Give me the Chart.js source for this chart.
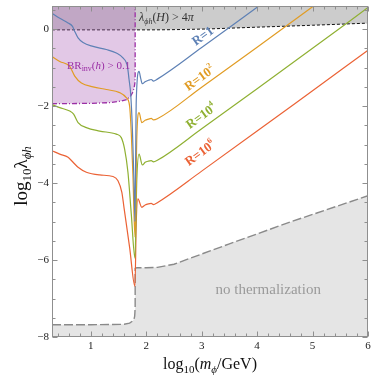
<!DOCTYPE html>
<html>
<head>
<meta charset="utf-8">
<script src="https://cdn.jsdelivr.net/npm/chart.js@4.4.0/dist/chart.umd.min.js"></script>
<style>
  html, body { margin: 0; padding: 0; background: #fff; }
</style>
</head>
<body>
<canvas id="lambda_plot" width="379" height="380"></canvas>
<script>
// x = log10(m_phi / GeV), y = log10(lambda_phih)
const blueX = [0.30, 0.44, 0.59, 0.67, 0.71, 0.77, 0.86, 1.04, 1.28, 1.46, 1.58, 1.66, 1.69, 1.72, 1.75, 1.78, 1.796, 1.82, 1.87, 1.90, 1.93, 1.98, 2.04, 2.09, 2.13, 2.20, 3.00, 4.00, 4.40];
const blueY = [0.41, 0.28, 0.16, 0.07, -0.06, -0.23, -0.35, -0.45, -0.53, -0.62, -0.75, -0.97, -1.31, -1.70, -2.60, -4.00, -5.00, -1.85, -1.10, -1.28, -1.42, -1.37, -1.33, -1.31, -1.35, -1.30, -0.48, 0.57, 0.99];

const orangeX = [0.30, 0.44, 0.62, 0.71, 0.83, 1.04, 1.28, 1.52, 1.64, 1.70, 1.73, 1.76, 1.796, 1.83, 1.87, 1.92, 1.98, 2.04, 2.09, 2.13, 2.20, 3.00, 4.00, 5.00, 5.40];
const orangeY = [-0.71, -0.84, -0.97, -1.22, -1.40, -1.50, -1.57, -1.65, -1.78, -2.00, -2.70, -3.80, -5.40, -2.80, -2.17, -2.43, -2.37, -2.34, -2.32, -2.36, -2.33, -1.51, -0.47, 0.58, 1.00];

const greenX = [0.30, 0.44, 0.62, 0.69, 0.77, 0.92, 1.16, 1.46, 1.55, 1.61, 1.67, 1.73, 1.796, 1.83, 1.87, 1.93, 1.98, 2.04, 2.09, 2.13, 2.20, 3.00, 4.00, 5.00, 6.00];
const greenY = [-1.96, -2.04, -2.13, -2.21, -2.43, -2.56, -2.65, -2.73, -2.82, -3.12, -3.72, -4.80, -5.95, -3.90, -3.25, -3.53, -3.46, -3.43, -3.42, -3.45, -3.41, -2.59, -1.55, -0.50, 0.56];

const redX = [0.30, 0.44, 0.59, 0.68, 0.77, 0.92, 1.16, 1.40, 1.49, 1.56, 1.60, 1.70, 1.796, 1.82, 1.85, 1.92, 1.98, 2.04, 2.09, 2.13, 2.20, 3.00, 4.00, 5.00, 6.00];
const redY = [-3.16, -3.25, -3.33, -3.46, -3.59, -3.72, -3.79, -3.83, -3.94, -4.24, -4.65, -5.67, -6.68, -5.00, -4.41, -4.63, -4.57, -4.54, -4.53, -4.56, -4.51, -3.69, -2.65, -1.60, -0.55];

// lambda(H) > 4pi boundary (black dashed)
const pertX = [0.30, 2.00, 3.00, 4.00, 5.00, 6.00];
const pertY = [-0.02, -0.02, 0.00, 0.05, 0.10, 0.155];

// BR_inv(h) > 0.1 region boundary (purple dot-dash)
const brX = [0.30, 1.00, 1.35, 1.55, 1.65, 1.71, 1.75, 1.78, 1.795, 1.80, 1.80];
const brY = [-1.94, -1.93, -1.91, -1.87, -1.83, -1.76, -1.66, -1.54, -1.40, -1.20, 0.60];

// no thermalization boundary (grey long dash)
const thermX = [0.30, 1.00, 1.60, 1.70, 1.75, 1.78, 1.79, 1.795, 1.80, 1.80, 1.83, 2.00, 2.20, 2.50, 2.80, 3.50, 4.60, 6.00];
const thermY = [-7.68, -7.68, -7.67, -7.64, -7.59, -7.53, -7.47, -7.38, -7.20, -6.22, -6.20, -6.20, -6.19, -6.11, -5.95, -5.58, -5.01, -4.33];

const xTicks = [1, 2, 3, 4, 5, 6];
const yTicks = [-8, -6, -4, -2, 0];

const seriesNames = ['R=1', 'R=10^2', 'R=10^4', 'R=10^6'];
const seriesColors = ['#5e81b5', '#e19c24', '#8fb032', '#eb6235'];
// label anchor (data coords) for each curve label
const labelX = [3.02, 2.96, 2.99, 2.97];
const labelY = [-0.18, -1.27, -2.26, -3.22];

const pts = (xs, ys) => xs.map((x, i) => ({ x: x, y: ys[i] }));
const serif = (size, style) => (style || '') + ' ' + size + 'px "Liberation Serif", "DejaVu Serif", serif';

function rich(ctx, parts, x, y, align) {
    let w = 0;
    parts.forEach(p => { ctx.font = p.f; p.w = ctx.measureText(p.t).width; w += p.w; });
    let cx = align === 'center' ? x - w / 2 : x;
    parts.forEach(p => {
        ctx.font = p.f;
        ctx.fillText(p.t, cx, y + (p.dy || 0));
        cx += p.w;
    });
}

function curve(i, xs, ys) {
    return {
        label: seriesNames[i],
        data: pts(xs, ys),
        borderColor: seriesColors[i],
        borderWidth: 1.2,
        pointRadius: 0,
        fill: false,
        cubicInterpolationMode: 'monotone',
        clip: 0,
        order: 1,
    };
}

const decor = {
    id: 'decor',
    afterDatasetsDraw(chart) {
        const { ctx, chartArea: a } = chart;
        const sx = chart.scales.x, sy = chart.scales.y;
        ctx.save();

        // frame with ticks pointing inward
        ctx.strokeStyle = '#8f8f8f';
        ctx.lineWidth = 1;
        const L = Math.round(a.left) + 0.5, R = Math.round(a.right) - 0.5;
        const T = Math.round(a.top) + 0.5, B = Math.round(a.bottom) - 0.5;
        ctx.strokeRect(L, T, R - L, B - T);
        ctx.beginPath();
        for (let k = 2; k <= 30; k++) {
            const v = k / 5;
            if (v < 0.3 || v > 6) continue;
            const len = (k % 5 === 0) ? 5 : 3;
            const px = Math.round(sx.getPixelForValue(v)) + 0.5;
            ctx.moveTo(px, B); ctx.lineTo(px, B - len);
            ctx.moveTo(px, T); ctx.lineTo(px, T + len);
        }
        for (let k = -16; k <= 1; k++) {
            const v = k / 2;
            const len = (k % 4 === 0) ? 5 : 3;
            const py = Math.round(sy.getPixelForValue(v)) + 0.5;
            ctx.moveTo(L, py); ctx.lineTo(L + len, py);
            ctx.moveTo(R, py); ctx.lineTo(R - len, py);
        }
        ctx.stroke();

        // region labels
        ctx.textBaseline = 'alphabetic';
        ctx.fillStyle = '#333';
        rich(ctx, [
            { t: 'λ', f: serif(12, 'italic') },
            { t: 'ϕh', f: serif(8, 'italic'), dy: 2.5 },
            { t: '(', f: serif(12) },
            { t: 'H', f: serif(12, 'italic') },
            { t: ') > 4', f: serif(12) },
            { t: 'π', f: serif(12, 'italic') },
        ], sx.getPixelForValue(1.87), sy.getPixelForValue(0.21), 'left');

        ctx.fillStyle = '#9b2fa5';
        rich(ctx, [
            { t: 'BR', f: serif(11) },
            { t: 'inv', f: serif(8), dy: 2.5 },
            { t: '(', f: serif(11) },
            { t: 'h', f: serif(11, 'italic') },
            { t: ') > 0.1', f: serif(11) },
        ], sx.getPixelForValue(0.57), sy.getPixelForValue(-1.03), 'left');

        ctx.fillStyle = '#9a9a9a';
        rich(ctx, [{ t: 'no thermalization', f: serif(15) }],
            sx.getPixelForValue(4.2), sy.getPixelForValue(-6.87), 'center');

        // curve labels, rotated along the lines
        const ang = Math.atan2(sy.getPixelForValue(0) - sy.getPixelForValue(1.05),
                               sx.getPixelForValue(1) - sx.getPixelForValue(0));
        seriesNames.forEach((name, i) => {
            const parts = name.split('^');
            const px = sx.getPixelForValue(labelX[i]), py = sy.getPixelForValue(labelY[i]);
            ctx.save();
            ctx.translate(px, py);
            ctx.rotate(-ang);
            ctx.fillStyle = seriesColors[i];
            const segs = [{ t: parts[0], f: serif(13, 'bold') }];
            if (parts[1]) segs.push({ t: parts[1], f: serif(8, 'bold'), dy: -6 });
            rich(ctx, segs, 0, 4, 'center');
            ctx.restore();
        });

        // axis titles
        ctx.fillStyle = '#111';
        rich(ctx, [
            { t: 'log', f: serif(16) },
            { t: '10', f: serif(11), dy: 4 },
            { t: '(', f: serif(16) },
            { t: 'm', f: serif(16, 'italic') },
            { t: 'ϕ', f: serif(11, 'italic'), dy: 4 },
            { t: '/GeV)', f: serif(16) },
        ], 210, 369, 'center');

        ctx.save();
        ctx.translate(27, 176);
        ctx.rotate(-Math.PI / 2);
        rich(ctx, [
            { t: 'log', f: serif(19) },
            { t: '10', f: serif(13), dy: 4 },
            { t: 'λ', f: serif(19) },
            { t: 'ϕh', f: serif(13, 'italic'), dy: 4 },
        ], 0, 0, 'center');
        ctx.restore();

        ctx.restore();
    }
};

Chart.defaults.font.family = '"Liberation Serif", "DejaVu Serif", serif';

const lambda_plot = {
    type: 'line',
    data: {
        datasets: [
            curve(0, blueX, blueY),
            curve(1, orangeX, orangeY),
            curve(2, greenX, greenY),
            curve(3, redX, redY),
            {
                label: 'BR_inv',
                data: pts(brX, brY),
                borderColor: '#9b2fa5',
                borderWidth: 1.3,
                borderDash: [5, 2, 1, 2],
                backgroundColor: 'rgba(172, 98, 184, 0.35)',
                pointRadius: 0,
                tension: 0,
                fill: 'end',
                clip: 0,
                order: 5,
            },
            {
                label: 'no thermalization',
                data: pts(thermX, thermY),
                borderColor: '#8a8a8a',
                borderWidth: 1.4,
                borderDash: [9, 3],
                backgroundColor: '#e5e5e5',
                pointRadius: 0,
                tension: 0,
                fill: 'start',
                clip: 0,
                order: 6,
            },
            {
                label: 'perturbativity',
                data: pts(pertX, pertY),
                borderColor: '#111',
                borderWidth: 1,
                borderDash: [3, 2],
                backgroundColor: '#cccccc',
                pointRadius: 0,
                cubicInterpolationMode: 'monotone',
                fill: 'end',
                clip: 0,
                order: 7,
            },
        ],
    },
    options: {
        responsive: false,
        animation: false,
        events: [],
        layout: { padding: { top: 6, right: 11, left: 0, bottom: 0 } },
        plugins: {
            legend: { display: false },
            tooltip: { enabled: false },
        },
        scales: {
            x: {
                type: 'linear',
                min: 0.3,
                max: 6,
                grid: { display: false, drawTicks: false },
                border: { display: false },
                afterBuildTicks: s => { s.ticks = xTicks.map(v => ({ value: v })); },
                afterFit: s => { s.height = 43; s.paddingLeft = 0; s.paddingRight = 0; },
                ticks: {
                    color: '#222',
                    padding: 3,
                    font: { size: 11 },
                    callback: v => String(v),
                },
            },
            y: {
                type: 'linear',
                min: -8,
                max: 0.6,
                grid: { display: false, drawTicks: false },
                border: { display: false },
                afterBuildTicks: s => { s.ticks = yTicks.map(v => ({ value: v })); },
                afterFit: s => { s.width = 52; s.paddingTop = 0; s.paddingBottom = 0; },
                ticks: {
                    color: '#222',
                    padding: 3,
                    font: { size: 11 },
                    callback: v => (v === 0 ? '0' : '\u2212' + Math.abs(v)),
                },
            },
        },
    },
    plugins: [decor],
};

window.chart = new Chart(document.getElementById('lambda_plot').getContext('2d'), lambda_plot);
</script>
</body>
</html>
